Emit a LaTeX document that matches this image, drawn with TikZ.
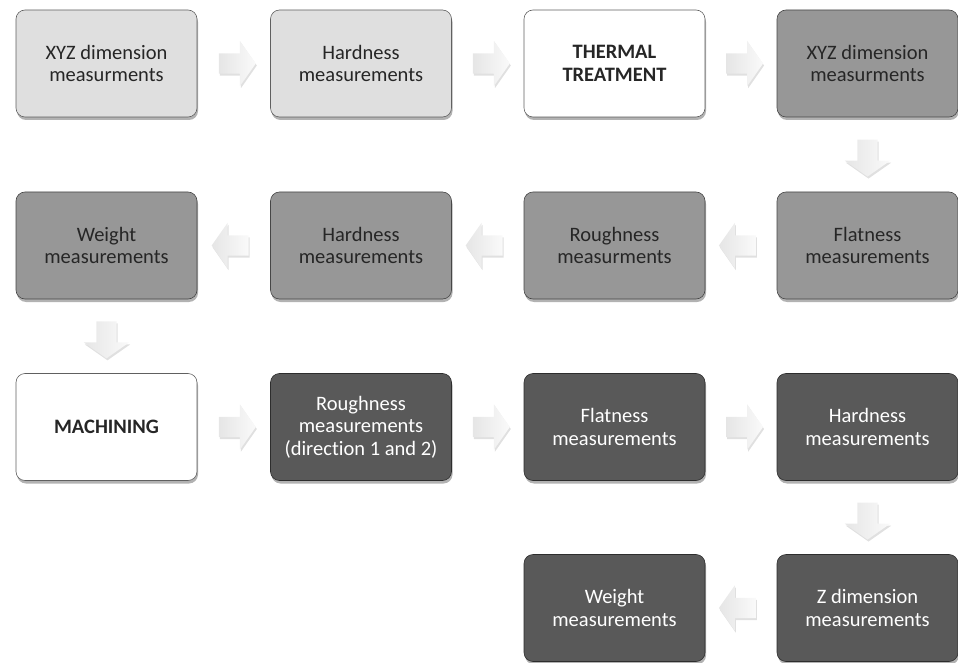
\documentclass[tikz,border=0pt]{standalone}
\usepackage{fontspec}
\setmainfont{Carlito}[Ligatures=NoCommon]
\usetikzlibrary{shapes.arrows,shadows,calc}
\definecolor{boxlight}{HTML}{DFDFDF}
\definecolor{boxmid}{HTML}{979797}
\definecolor{boxdark}{HTML}{595959}
\definecolor{txtdark}{HTML}{262626}
\begin{document}
\begin{tikzpicture}[x=1pt,y=1pt,
  box/.style={rounded corners=9pt, minimum width=181pt, minimum height=107pt,
    align=center, inner sep=4pt, font=\fontsize{20.5}{22.5}\selectfont,
    drop shadow={shadow xshift=1pt, shadow yshift=-3pt, opacity=0.3, fill=black}},
  lightbox/.style={box, fill=boxlight, draw=gray!75!black, text=txtdark, line width=0.6pt},
  whitebox/.style={box, fill=white, draw=gray!75!black, text=txtdark, line width=0.6pt, font=\fontsize{20.5}{22.5}\selectfont\bfseries},
  midbox/.style={box, fill=boxmid, draw=gray!55!black, text=txtdark, line width=0.6pt},
  darkbox/.style={box, fill=boxdark, draw=gray!35!black, text=white, line width=0.6pt},
  flow/.style={single arrow, sloped, allow upside down, draw=none,
    inner sep=10pt, minimum height=37pt, minimum width=45pt,
    single arrow head extend=12.5pt, single arrow tip angle=110,
    left color=gray!20, right color=gray!4,
    drop shadow={shadow xshift=1pt, shadow yshift=-2pt, opacity=0.12, fill=black}}
]
\useasboundingbox (0,0) rectangle (958,-663);
% row 1
\node[lightbox] (a1) at (106.5,-63.5) {XYZ dimension\\measurments};
\node[lightbox] (a2) at (361,-63.5) {Hardness\\measurements};
\node[whitebox] (a3) at (614.5,-63.5) {THERMAL\\TREATMENT};
\node[midbox] (a4) at (867.5,-63.5) {XYZ dimension\\measurments};
% row 2
\node[midbox] (b4) at (867.5,-245.5) {Flatness\\measurements};
\node[midbox] (b3) at (614.5,-245.5) {Roughness\\measurments};
\node[midbox] (b2) at (361,-245.5) {Hardness\\measurements};
\node[midbox] (b1) at (106.5,-245.5) {Weight\\measurements};
% row 3
\node[whitebox] (c1) at (106.5,-427) {MACHINING};
\node[darkbox] (c2) at (361,-427) {Roughness\\measurements\\(direction 1 and 2)};
\node[darkbox] (c3) at (614.5,-427) {Flatness\\measurements};
\node[darkbox] (c4) at (867.5,-427) {Hardness\\measurements};
% row 4
\node[darkbox] (d4) at (867.5,-608) {Z dimension\\measurements};
\node[darkbox] (d3) at (614.5,-608) {Weight\\measurements};
% connectors
\path (a1) -- node[flow] {} (a2);
\path (a2) -- node[flow] {} (a3);
\path (a3) -- node[flow] {} (a4);
\path (a4) -- node[flow] {} (b4);
\path (b4) -- node[flow] {} (b3);
\path (b3) -- node[flow] {} (b2);
\path (b2) -- node[flow] {} (b1);
\path (b1) -- node[flow] {} (c1);
\path (c1) -- node[flow] {} (c2);
\path (c2) -- node[flow] {} (c3);
\path (c3) -- node[flow] {} (c4);
\path (c4) -- node[flow] {} (d4);
\path (d4) -- node[flow] {} (d3);
\end{tikzpicture}
\end{document}
